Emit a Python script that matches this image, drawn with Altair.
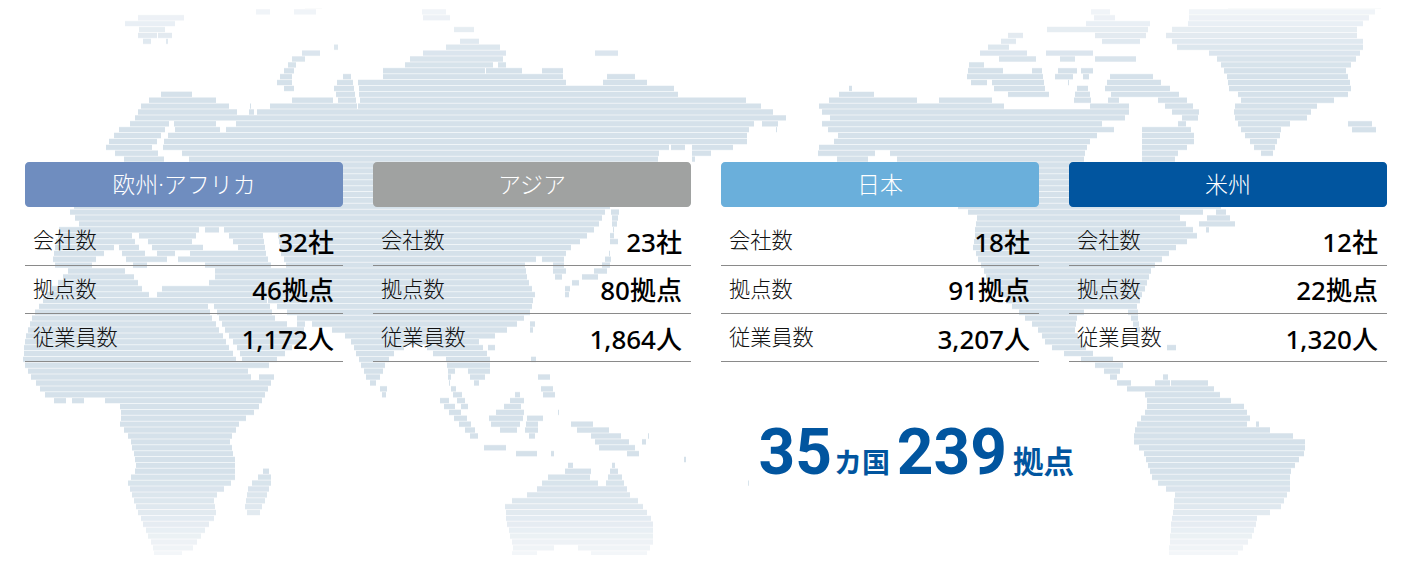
import altair as alt
import numpy as np
import pandas as pd

W, H = 1388, 547
OX, OY = 8, 8
FONT = "'Noto Sans', 'Noto Sans CJK JP'"

# ---- content -------------------------------------------------------------
regions = ["欧州·アフリカ", "アジア", "日本", "米州"]
region_colors = ["#6f8dbf", "#a0a2a1", "#6aafdb", "#01559f"]
panel_left = [25, 373, 721, 1069]
panel_width = 318
row_labels = ["会社数", "拠点数", "従業員数"]
companies = ["32社", "23社", "18社", "12社"]
sites = ["46拠点", "80拠点", "91拠点", "22拠点"]
staff = ["1,172人", "1,864人", "3,207人", "1,320人"]
row_text_y = [242, 290.5, 339]
row_rule_y = [265.5, 313.5, 361.5]

# ---- map outlines (x, y in image pixels) ----------------------------------
eurasia = [(105,147),(118,130),(132,123),(143,103),(170,90),(195,95),(223,102),(237,112),(237,118),(248,115),(250,105),(255,113),(277,103),(310,97),(333,100),(340,105),(333,87),(347,73),(353,78),(363,78),(383,78),(383,70),(405,65),(413,55),(440,50),(463,40),(478,40),(482,45),(497,45),(507,52),(502,58),(507,67),(527,72),(542,72),(543,68),(563,70),(563,80),(570,87),(577,83),(582,86),(602,85),(605,77),(620,74),(643,78),(650,87),(673,87),(678,95),(708,96),(717,100),(717,95),(733,95),(763,107),(788,119),(778,123),(777,130),(755,121),(753,127),(745,132),(750,140),(727,150),(703,155),(692,161),(692,143),(680,150),(670,147),(660,150),(657,163),(640,185),(607,208),(597,227),(580,242),(567,250),(563,263),(567,273),(558,280),(553,275),(553,265),(540,258),(525,263),(528,280),(535,295),(530,313),(513,327),(487,340),(478,342),(487,353),(490,358),(490,372),(477,385),(472,382),(468,370),(457,368),(452,375),(450,383),(455,388),(462,395),(470,410),(465,412),(455,398),(449,385),(447,362),(445,355),(441,358),(434,355),(425,345),(410,345),(395,352),(385,365),(380,378),(372,387),(365,375),(358,357),(350,340),(342,333),(325,328),(305,322),(303,340),(295,345),(283,355),(267,367),(248,370),(240,360),(213,305),(213,282),(170,272),(100,272),(70,272),(52,264),(55,245),(60,228),(80,225),(70,212),(75,205),(100,190),(130,165),(125,160)]
africa = [(23,362),(25,340),(33,315),(48,293),(68,272),(90,262),(213,265),(216,300),(210,304),(225,340),(243,362),(252,378),(275,375),(257,410),(240,423),(230,440),(235,460),(235,480),(213,498),(217,515),(207,527),(193,548),(180,555),(155,558),(153,547),(138,512),(128,482),(137,468),(130,438),(120,425),(122,407),(108,403),(98,396),(80,402),(68,400),(57,403),(43,393),(30,375)]
americas_north = [(817,107),(850,88),(877,95),(904,97),(929,103),(958,95),(969,98),(992,100),(1008,108),(1031,110),(1062,108),(1077,110),(1100,103),(1115,98),(1131,107),(1127,117),(1112,123),(1100,123),(1115,130),(1092,137),(1087,147),(1083,163),(1110,185),(1142,163),(1142,143),(1175,153),(1175,163),(1223,208),(1237,227),(1207,230),(1177,247),(1153,267),(1143,293),(1137,307),(1140,330),(1136,330),(1127,310),(1103,310),(1078,313),(1075,330),(1085,347),(1095,355),(1107,358),(1125,362),(1117,378),(1145,388),(1133,392),(1117,383),(1100,368),(1090,362),(1080,359),(1060,352),(1047,345),(1037,328),(1010,305),(987,278),(973,248),(977,218),(960,207),(940,200),(900,162),(890,153),(875,153),(865,162),(817,157),(819,147),(838,140),(838,133),(813,125),(835,122),(823,113)]
americas_south = [(1155,380),(1168,375),(1170,385),(1172,377),(1183,382),(1207,382),(1222,397),(1243,405),(1250,418),(1245,423),(1253,428),(1257,423),(1273,432),(1287,433),(1305,442),(1305,452),(1290,472),(1290,488),(1280,508),(1257,518),(1253,535),(1235,558),(1220,563),(1168,563),(1170,535),(1175,495),(1153,480),(1145,455),(1133,440),(1135,427),(1147,410),(1147,397),(1138,387),(1155,387)]
greenland = [(1188,7),(1385,2),(1354,33),(1365,43),(1358,57),(1346,70),(1352,87),(1348,95),(1315,107),(1304,122),(1281,125),(1281,133),(1275,147),(1271,157),(1258,152),(1242,132),(1235,117),(1233,108),(1244,97),(1229,90),(1227,77),(1219,60),(1204,50),(1179,50),(1173,42),(1163,33),(1190,23)]
australia = [(505,505),(513,500),(535,492),(543,482),(553,473),(563,475),(568,465),(592,467),(590,478),(605,487),(613,462),(622,478),(630,495),(640,502),(653,522),(653,542),(643,562),(597,562),(593,555),(587,552),(567,543),(543,552),(523,558),(512,555),(513,545),(507,525)]
islands = [
    [(125,20),(153,15),(183,15),(185,20),(163,28),(175,38),(167,42),(157,35),(148,45),(137,37),(140,28),(125,28)],
    [(250,10),(273,10),(265,15)],[(287,7),(323,5),(315,13),(295,13)],
    [(340,43),(333,48),(307,50),(290,60),(285,70),(277,80),(278,87),(295,91),(291,80),(297,63),(313,55),(338,48)],
    [(422,10),(443,8),(453,23),(475,27),(473,32),(453,33),(457,23),(433,23),(422,17)],
    [(593,50),(620,52),(610,58),(598,58)],[(630,53),(645,57),(637,59)],[(605,65),(617,70),(607,70)],[(747,83),(759,85),(747,88)],
    [(267,467),(272,480),(263,505),(257,518),(248,518),(245,505),(248,487),(257,478)],
    [(380,383),(385,383),(388,393),(384,397),(380,393)],
    [(611,208),(620,208),(617,225),(613,232)],[(610,233),(620,240),(610,247)],
    [(610,252),(612,262),(605,275),(587,280),(573,285),(572,281),(587,275),(600,268)],[(565,287),(570,287),(569,295),(565,295)],
    [(530,322),(535,322),(533,332),(530,332)],[(488,343),(497,342),(494,349),(488,349)],
    [(530,355),(537,355),(535,365),(532,363)],[(537,372),(550,374),(549,382),(538,380)],[(541,385),(552,384),(555,395),(546,397),(540,393)],
    [(438,398),(448,400),(467,418),(478,435),(475,441),(460,425),(447,410)],
    [(477,443),(490,442),(513,450),(507,452),(480,447)],[(515,452),(538,452),(537,454),(516,454)],[(543,457),(555,452),(553,455)],
    [(488,417),(503,408),(517,393),(527,398),(520,405),(525,415),(515,433),(500,430),(493,428)],
    [(527,418),(547,413),(537,425),(538,435),(530,438),(525,430)],[(558,412),(561,413),(560,419)],
    [(570,423),(582,422),(597,425),(620,435),(633,445),(643,459),(633,457),(620,450),(600,450),(597,445),(590,435),(577,430)],
    [(637,440),(650,435),(645,443)],[(660,442),(665,446),(662,447)],[(672,448),(677,452),(674,453)],[(683,455),(686,460),(684,460)],
    [(742,487),(750,482),(745,489)],[(726,556),(731,562),(727,562)],
    [(1346,120),(1381,125),(1373,133),(1354,133)],[(1160,345),(1190,350),(1175,351)],
    [(1112,72),(1146,72),(1169,88),(1185,98),(1204,117),(1185,120),(1169,110),(1158,100),(1138,95),(1115,97),(1104,90)],
    [(1142,128),(1185,123),(1194,133),(1194,143),(1175,155),(1142,147)],
    [(969,63),(1000,67),(1004,72),(990,80),(981,88),(967,80)],
    [(990,78),(1015,72),(1042,70),(1046,93),(1056,97),(1031,97),(996,93)],
    [(1058,70),(1077,70),(1069,83),(1054,78)],[(1077,87),(1088,87),(1092,103),(1073,103)],[(1081,70),(1096,67),(1085,83)],
    [(1042,25),(1069,28),(1100,20),(1081,13),(1108,10),(1119,23),(1150,23),(1146,37),(1138,43),(1104,43),(1092,33),(1050,33)],
    [(1090,55),(1137,55),(1135,62),(1100,63)],[(1046,48),(1069,52),(1096,50),(1088,58),(1062,60),(1046,53)],
    [(977,52),(1000,42),(1015,30),(1027,32),(1015,42),(1008,47),(1027,53),(1038,60),(1012,63),(996,58)],
]
waters = [
    [(92,262),(105,253),(118,245),(123,255),(128,262),(140,270),(152,262),(165,262),(170,255),(175,258),(185,263),(205,265),(217,272),(213,282),(190,287),(165,285),(155,297),(145,293),(130,272),(110,268),(92,268)],
    [(130,232),(145,238),(158,255),(150,258),(137,245)],[(172,257),(178,250),(190,253),(195,257)],
    [(192,242),(200,228),(213,233),(223,228),(238,248),(217,250),(200,247)],
    [(262,230),(277,230),(280,250),(287,267),(273,270),(267,257)],
    [(207,303),(212,305),(225,330),(240,352),(243,362),(238,362),(225,340),(212,318)],
    [(267,300),(283,310),(300,320),(295,328),(275,318)],
    [(170,123),(180,125),(165,138),(163,150),(192,155),(188,160),(165,160),(152,148)],
    [(213,120),(222,132),(237,123),(237,118)],[(353,80),(358,80),(360,105),(357,107)],[(483,70),(502,60),(502,63),(486,71)],
    [(1180,218),(1223,207),(1193,228),(1207,230),(1195,232)],
]
land = [eurasia, africa, americas_north, americas_south, greenland, australia] + islands


def spans(poly, y):
    """x intervals of a polygon on scan line y."""
    xs = []
    n = len(poly)
    for i in range(n):
        (x1, y1), (x2, y2) = poly[i], poly[(i + 1) % n]
        if (y1 <= y < y2) or (y2 <= y < y1):
            xs.append(x1 + (y - y1) * (x2 - x1) / (y2 - y1))
    xs.sort()
    return list(zip(xs[::2], xs[1::2]))


stripe_rows = np.arange(380 - 5.89 * 64, 563, 5.89)
rows = []
for gap in stripe_rows:
    mid = gap + 2.945
    mask = np.zeros(1420, dtype=bool)
    for p in land:
        for a, b in spans(p, mid):
            mask[int(round(a)):int(round(b))] = True
    for p in waters:
        for a, b in spans(p, mid):
            mask[int(round(a)):int(round(b))] = False
    d = np.diff(mask.astype(int))
    for s, e in zip(np.where(d == 1)[0] + 1, np.where(d == -1)[0] + 1):
        rows.append({"x": int(s), "x2": int(e), "y": gap + 0.5, "y2": gap + 5.39,
                     "ya": gap, "yb": gap + 5.89, "m": mid})
stripes = pd.DataFrame(rows)

X = alt.Scale(domain=[OX, OX + W], nice=False, zero=False)
Y = alt.Scale(domain=[OY + H, OY], nice=False, zero=False)
x = lambda f: alt.X(f, type="quantitative", scale=X, axis=None)
y = lambda f: alt.Y(f, type="quantitative", scale=Y, axis=None)
fade = alt.Opacity("m:Q", legend=None,
                   scale=alt.Scale(domain=[0, 70, 470, 563], range=[0.1, 1, 1, 0.12], clamp=True))

map_under = alt.Chart(stripes).mark_rect(color="#ecf1f5", clip=True).encode(
    x=x("x"), x2="x2", y=y("ya"), y2="yb", opacity=fade)
map_layer = alt.Chart(stripes).mark_rect(color="#d5e1ea", clip=True).encode(
    x=x("x"), x2="x2", y=y("y"), y2="y2", opacity=fade)

head = pd.DataFrame({"name": regions, "c": region_colors, "x": panel_left,
                     "x2": [v + panel_width for v in panel_left],
                     "m": [v + panel_width / 2 for v in panel_left],
                     "y": 162, "y2": 207, "t": 186})
head_rect = alt.Chart(head).mark_rect(cornerRadius=4).encode(
    x=x("x"), x2="x2", y=y("y"), y2="y2", color=alt.Color("c:N", scale=None))
head_text = alt.Chart(head).mark_text(font=FONT, fontSize=23, fontWeight=300, color="white", baseline="middle").encode(
    x=x("m"), y=y("t"), text="name:N")

rule_rows, label_rows, value_rows = [], [], []
for i, left in enumerate(panel_left):
    vals = [companies[i], sites[i], staff[i]]
    for j in range(3):
        rule_rows.append({"x": left, "x2": left + panel_width, "y": row_rule_y[j]})
        label_rows.append({"x": left + 8, "y": row_text_y[j], "t": row_labels[j]})
        value_rows.append({"x": left + 309, "y": row_text_y[j] + 1.5, "t": vals[j]})

rules = alt.Chart(pd.DataFrame(rule_rows)).mark_rule(color="#8a8a8a", strokeWidth=1).encode(
    x=x("x"), x2="x2", y=y("y"))
labels = alt.Chart(pd.DataFrame(label_rows)).mark_text(
    font=FONT, fontSize=21.2, fontWeight=300, color="#111111", align="left", baseline="middle").encode(
    x=x("x"), y=y("y"), text="t:N")
values = alt.Chart(pd.DataFrame(value_rows)).mark_text(
    font=FONT, fontSize=26, fontWeight=500, color="#000000", align="right", baseline="middle").encode(
    x=x("x"), y=y("y"), text="t:N")

big_numbers = pd.DataFrame({"t": ["35", "239"], "x": [832, 1007], "y": [474, 474]})
small_units = pd.DataFrame({"t": ["カ国", "拠点"], "x": [890, 1074], "y": [473, 473], "s": [28, 30.5]})
big = alt.Chart(big_numbers).mark_text(
    font="Roboto", fontSize=64, fontWeight=700, color="#01559f",
    align="right", baseline="alphabetic").encode(x=x("x"), y=y("y"), text="t:N")
small = alt.Chart(small_units).mark_text(
    font="Noto Sans CJK JP", fontWeight=700, color="#01559f", align="right", baseline="alphabetic").encode(
    x=x("x"), y=y("y"), text="t:N", size=alt.Size("s:Q", scale=None, legend=None))

chart = alt.layer(map_under, map_layer, head_rect, head_text, rules, labels, values, big, small).properties(
    width=W, height=H, padding=0, background="white"
).configure_view(stroke=None)

chart.save("out.html", embed_options={"renderer": "svg", "actions": False})
